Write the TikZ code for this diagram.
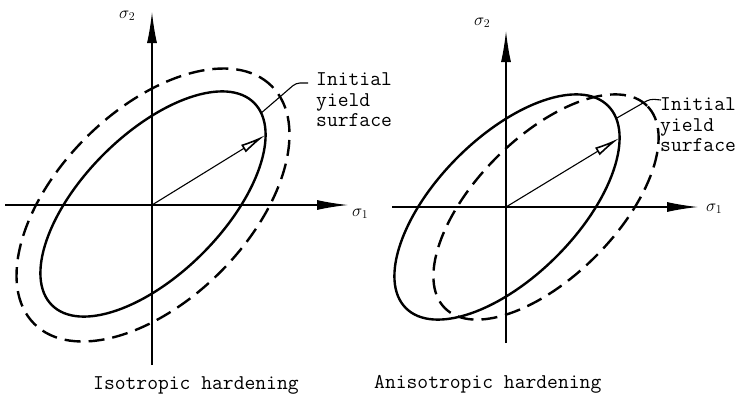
\documentclass[tikz,border=0pt]{standalone}
\usetikzlibrary{arrows.meta}
\begin{document}
\begin{tikzpicture}[x=1bp,y=1bp,
  solidcurve/.style={line width=2.4bp},
  dashcurve/.style={line width=2.4bp, dash pattern=on 16bp off 8bp},
  axis/.style={line width=1.3bp, -{Latex[length=31bp,width=10bp]}},
  radiusarrow/.style={line width=1.1bp, -{Latex[open,length=26bp,width=9bp,line width=1.6bp]}},
  leader/.style={line width=1.1bp, rounded corners=4bp},
  lab/.style={font=\fontsize{21bp}{25bp}\selectfont\ttfamily, inner sep=0pt, anchor=base west},
  sig/.style={font=\fontsize{18bp}{20bp}\selectfont, inner sep=0pt, anchor=base west}]
\useasboundingbox (0,0) rectangle (741,394);

% ---------- left: isotropic hardening ----------
\coordinate (O1) at (152,189);
\coordinate (X1s) at (5,189);   \coordinate (X1e) at (348,189);
\coordinate (Y1s) at (152,29);  \coordinate (Y1e) at (152,382);
\draw[axis] (X1s) -- (X1e);
\draw[axis] (Y1s) -- (Y1e);

\begin{scope}[shift={(153,190)}, rotate=45]
  \draw[solidcurve] (0,0) ellipse [x radius=143, y radius=70];
  \coordinate (R1) at (-26.1:143 and 70);
  \coordinate (L1) at (-10:143 and 70);
\end{scope}
\begin{scope}[shift={(153,189)}, rotate=45]
  \draw[dashcurve] (0,0) ellipse [x radius=168, y radius=95];
\end{scope}

\draw[radiusarrow] (O1) -- (R1);
\coordinate (LS1) at (308,311);
\coordinate (LB1) at (296,311);
\draw[leader] (LS1) -- (LB1) -- (L1);

\node[lab] (t1a) at (316,308.5) {Initial};
\node[lab] (t1b) at (316,288) {yield};
\node[lab] (t1c) at (316,267.5) {surface};

\node[sig] (s1x) at (352,178) {$\sigma_1$};
\node[sig] (s1y) at (119,376) {$\sigma_2$};

\node[lab] (cap1) at (93,5) {Isotropic hardening};

% ---------- right: anisotropic hardening ----------
\coordinate (O2) at (506,187);
\coordinate (X2s) at (392,187); \coordinate (X2e) at (698,187);
\coordinate (Y2s) at (506,51);  \coordinate (Y2e) at (506,363);
\draw[axis] (X2s) -- (X2e);
\draw[axis] (Y2s) -- (Y2e);

\begin{scope}[shift={(507,187)}, rotate=45]
  \draw[solidcurve] (0,0) ellipse [x radius=143, y radius=70];
  \coordinate (R2) at (-26.1:143 and 70);
  \coordinate (L2) at (-12:143 and 70);
\end{scope}
\begin{scope}[shift={(546,187)}, rotate=45]
  \draw[dashcurve] (0,0) ellipse [x radius=143, y radius=70];
\end{scope}

\draw[radiusarrow] (O2) -- (R2);
\coordinate (LS2) at (661,294);
\coordinate (LB2) at (650,295);
\draw[leader] (LS2) -- (LB2) -- (L2);

\node[lab] (t2a) at (660,283.5) {Initial};
\node[lab] (t2b) at (660,263) {yield};
\node[lab] (t2c) at (660,242.5) {surface};

\node[sig] (s2x) at (706,183) {$\sigma_1$};
\node[sig] (s2y) at (474,369) {$\sigma_2$};

\node[lab] (cap2) at (374,6) {Anisotropic hardening};
\end{tikzpicture}
\end{document}
